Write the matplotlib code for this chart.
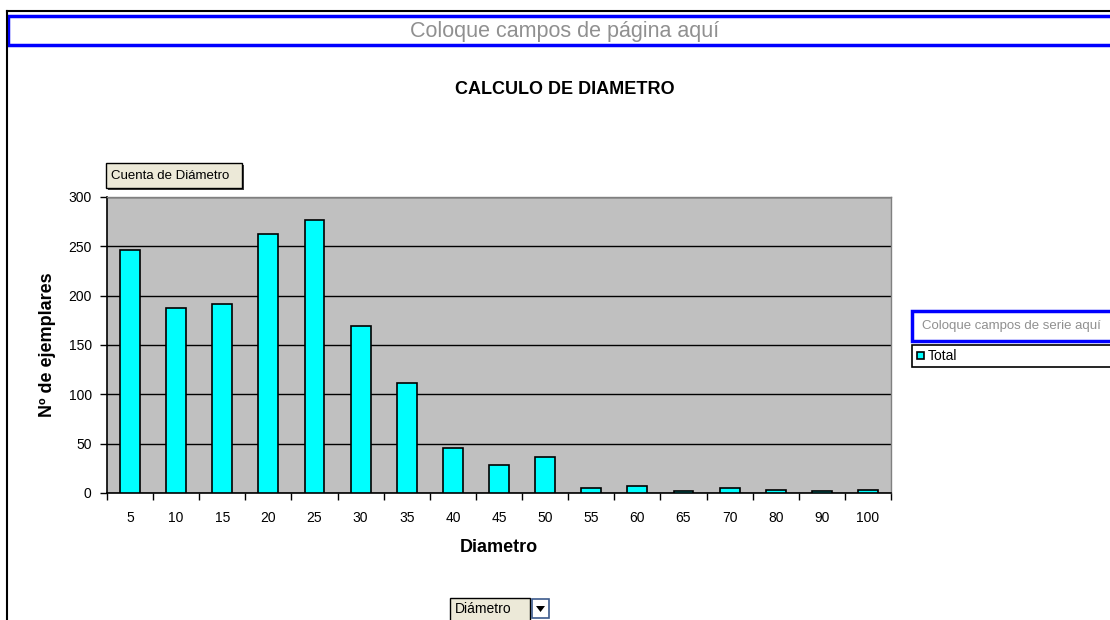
import matplotlib.pyplot as plt
from matplotlib.patches import Rectangle, Polygon
import numpy as np

plt.rcParams['font.family'] = ['Liberation Sans', 'DejaVu Sans']

# datos del grafico (cuenta de diametro por clase)
diametros = ['5', '10', '15', '20', '25', '30', '35', '40', '45', '50',
             '55', '60', '65', '70', '80', '90', '100']
cuenta = [246, 187, 192, 262, 277, 169, 111, 46, 28, 36,
          5, 7, 2, 5, 3, 2, 3]
yticks = [0, 50, 100, 150, 200, 250, 300]

W, H = 1110, 620
fig = plt.figure(figsize=(W / 100, H / 100), dpi=100)
fig.patch.set_facecolor('white')


def px(x, y, w, h):
    # caja en pixeles (origen arriba-izquierda) -> coordenadas de figura
    return (x / W, 1 - (y + h) / H, w / W, h / H)


def caja(x, y, w, h, **kw):
    r = Rectangle((x / W, 1 - (y + h) / H), w / W, h / H,
                  transform=fig.transFigure, **kw)
    fig.add_artist(r)
    return r


# marco exterior
fig.add_artist(plt.Line2D([7 / W, 1], [1 - 11 / H, 1 - 11 / H], color='black', lw=1.5,
                          transform=fig.transFigure))
fig.add_artist(plt.Line2D([7 / W, 7 / W], [0, 1 - 11 / H], color='black', lw=1.5,
                          transform=fig.transFigure))

# zona de campos de pagina
caja(8, 16, 1110, 29, facecolor='white', edgecolor='#0000FF', lw=2.5)
fig.text(565 / W, 1 - 31 / H, 'Coloque campos de página aquí', ha='center', va='center',
         fontsize=15.5, color='#909090')

# titulo
fig.text(565 / W, 1 - 89 / H, 'CALCULO DE DIAMETRO', ha='center', va='center',
         fontsize=13, fontweight='bold')

# ejes principales
ax = fig.add_axes(px(107, 197, 784, 296))
ax.set_facecolor('#C0C0C0')
x = np.arange(len(diametros))
ax.bar(x, cuenta, width=0.43, color='#00FFFF', edgecolor='black', lw=1.2, zorder=3)
ax.set_xlim(-0.5, len(diametros) - 0.5)
ax.set_ylim(0, 300)
ax.set_yticks(yticks)
ax.yaxis.grid(True, color='black', lw=1, zorder=1)
ax.set_axisbelow(True)
ax.set_xticks(x)
ax.set_xticklabels(diametros, fontsize=10)
ax.set_xticks(np.arange(-0.5, len(diametros)), minor=True)
ax.tick_params(axis='x', which='major', length=0, pad=13)
ax.tick_params(axis='x', which='minor', length=5, width=1, direction='out')
ax.tick_params(axis='y', labelsize=10, length=5, width=1, pad=6)
for s in ['left', 'bottom']:
    ax.spines[s].set_color('black')
    ax.spines[s].set_linewidth(1.2)
for s in ['top', 'right']:
    ax.spines[s].set_color('#808080')
    ax.spines[s].set_linewidth(1)
ax.set_ylabel('Nº de ejemplares', fontsize=13, fontweight='bold', labelpad=9)
ax.set_xlabel('Diametro', fontsize=13, fontweight='bold', labelpad=10)

# boton "Cuenta de Diametro"
caja(108, 165, 136, 25, facecolor='#404040', edgecolor='none')
caja(106, 163, 136, 25, facecolor='#ECE9D8', edgecolor='black', lw=1)
fig.text(111 / W, 1 - 176 / H, 'Cuenta de Diámetro', ha='left', va='center', fontsize=9.5)

# zona de campos de serie y leyenda
caja(912, 311, 210, 30, facecolor='white', edgecolor='#0000FF', lw=2.5)
fig.text(922 / W, 1 - 326 / H, 'Coloque campos de serie aquí', ha='left', va='center',
         fontsize=9.5, color='#909090')
caja(912, 345, 210, 22, facecolor='white', edgecolor='black', lw=1.2)
caja(917, 352, 7, 7, facecolor='#00FFFF', edgecolor='black', lw=1.2)
fig.text(928 / W, 1 - 356 / H, 'Total', ha='left', va='center', fontsize=10)

# boton "Diametro" con desplegable
caja(450, 598, 80, 24, facecolor='#ECE9D8', edgecolor='black', lw=1)
fig.text(455 / W, 1 - 609 / H, 'Diámetro', ha='left', va='center', fontsize=10)
caja(532, 599, 17, 19, facecolor='white', edgecolor='#3C5A8C', lw=1.2)
tri = Polygon([(536 / W, 1 - 606 / H), (545 / W, 1 - 606 / H), (540.5 / W, 1 - 612 / H)],
              closed=True, transform=fig.transFigure, facecolor='black')
fig.add_artist(tri)

fig.savefig('out.png', dpi=100)
